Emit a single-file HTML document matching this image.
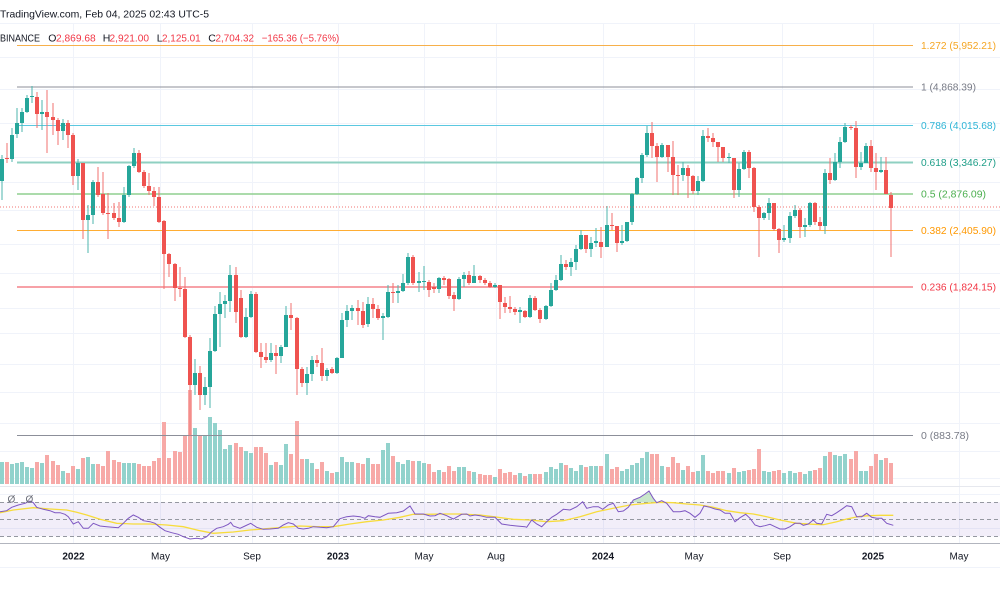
<!DOCTYPE html>
<html><head><meta charset="utf-8"><style>
html,body{margin:0;padding:0;background:#fff;width:1000px;height:600px;overflow:hidden}
svg{display:block}
text{font-family:"Liberation Sans",Arial,sans-serif}
</style></head><body>
<svg id="s" width="1000" height="600" viewBox="0 0 1000 600" xmlns="http://www.w3.org/2000/svg">
<rect x="0" y="0" width="1000" height="600" fill="#fff"/>
<g stroke="#f0f3fa" stroke-width="1">
<line x1="0" y1="23.5" x2="1000" y2="23.5"/><line x1="0" y1="57.5" x2="1000" y2="57.5"/>
<line x1="0" y1="89.5" x2="1000" y2="89.5"/><line x1="0" y1="123.5" x2="1000" y2="123.5"/>
<line x1="0" y1="157.5" x2="1000" y2="157.5"/><line x1="0" y1="182.5" x2="1000" y2="182.5"/>
<line x1="0" y1="210.5" x2="1000" y2="210.5"/><line x1="0" y1="244.5" x2="1000" y2="244.5"/>
<line x1="0" y1="273.5" x2="1000" y2="273.5"/><line x1="0" y1="308.5" x2="1000" y2="308.5"/>
<line x1="0" y1="333.5" x2="1000" y2="333.5"/><line x1="0" y1="364.5" x2="1000" y2="364.5"/>
<line x1="0" y1="392.5" x2="1000" y2="392.5"/><line x1="0" y1="423.5" x2="1000" y2="423.5"/>
<line x1="0" y1="451.5" x2="1000" y2="451.5"/><line x1="0" y1="478.5" x2="1000" y2="478.5"/>
<line x1="0" y1="494.5" x2="1000" y2="494.5"/><line x1="0" y1="528.5" x2="1000" y2="528.5"/>
<line x1="0" y1="567.5" x2="1000" y2="567.5"/>
<line x1="73.5" y1="23" x2="73.5" y2="543"/><line x1="160.5" y1="23" x2="160.5" y2="543"/>
<line x1="252.5" y1="23" x2="252.5" y2="543"/><line x1="338.5" y1="23" x2="338.5" y2="543"/>
<line x1="424.5" y1="23" x2="424.5" y2="543"/><line x1="496.5" y1="23" x2="496.5" y2="543"/>
<line x1="603.5" y1="23" x2="603.5" y2="543"/><line x1="694.5" y1="23" x2="694.5" y2="543"/>
<line x1="782.5" y1="23" x2="782.5" y2="543"/><line x1="873.5" y1="23" x2="873.5" y2="543"/>
<line x1="959.5" y1="23" x2="959.5" y2="543"/>
</g>
<!-- RSI pane -->
<line x1="0" y1="486.5" x2="1000" y2="486.5" stroke="#e6e8ee" stroke-width="1"/>
<rect x="0" y="502.3" width="1000" height="34" fill="#7e57c2" fill-opacity="0.1"/>
<g stroke="#9598a1" stroke-width="1" stroke-dasharray="4,3">
<line x1="0" y1="502.5" x2="1000" y2="502.5"/>
<line x1="0" y1="519.5" x2="1000" y2="519.5"/>
<line x1="0" y1="536.5" x2="1000" y2="536.5"/>
</g>
<line x1="0" y1="543.5" x2="1000" y2="543.5" stroke="#b2b5be" stroke-width="1"/>
<g id="vol"></g>
<!-- fib lines -->
<line x1="17" y1="45.5" x2="913" y2="45.5" stroke="#f7b04a" stroke-width="1"/>
<line x1="17" y1="87" x2="913" y2="87" stroke="#8c8f99" stroke-width="1"/>
<line x1="17" y1="125.5" x2="913" y2="125.5" stroke="#5bc8e0" stroke-width="1"/>
<line x1="17" y1="162.5" x2="913" y2="162.5" stroke="#8fd0c2" stroke-width="2"/>
<line x1="17" y1="194" x2="913" y2="194" stroke="#8fcf8f" stroke-width="1.5"/>
<line x1="17" y1="230.5" x2="913" y2="230.5" stroke="#ffad33" stroke-width="1"/>
<line x1="17" y1="287" x2="913" y2="287" stroke="#f7a1a7" stroke-width="2"/>
<line x1="17" y1="435.5" x2="913" y2="435.5" stroke="#8c8f99" stroke-width="1"/>
<g id="cdl"></g>
<line x1="0" y1="207" x2="1000" y2="207" stroke="#ef5350" stroke-width="1" stroke-dasharray="1,2" stroke-opacity="0.8"/>
<!-- RSI -->
<polygon points="27.8,502.3 30,501 33,502.3" fill="#4caf50" fill-opacity="0.3"/>
<polygon points="631.7,502.3 633.3,500 640,497.3 645,494 649,491 653.3,498.3 656.4,502.3" fill="#4caf50" fill-opacity="0.3"/>
<polyline fill="none" stroke="#f7dc3c" stroke-width="1.3" points="0,512.7 13.3,510 33.3,507.7 50,509 66.7,510 76.7,512.3 86.7,515 100,519.3 116.7,523.3 133.3,524 150,524 166.7,525 183.3,526.7 200,530.7 213.3,533.3 233.3,532 250,530 266.7,528.7 283.3,527.3 300,526 316.7,526.7 333.3,526.7 350,524 366.7,521.7 383.3,520 400,517.3 413.3,514.3 426.7,514.3 443.3,514 460,514 480,515 493.3,516.7 513.3,519.3 530,520 546.7,521.7 563.3,520.7 580,516.7 596.7,511.7 613.3,508.3 630,505 646.7,503.3 660,502.3 673.3,502.7 686.7,504 700,505 713.3,507.3 726.7,510.7 740,512.7 753.3,514 766.7,516.7 780,520 796.7,523.3 813.3,524.3 823.3,524.7 836.7,521.7 846.7,519 860,516.3 870,515.7 880,515.3 893.3,515.3"/>
<polyline fill="none" stroke="#7e57c2" stroke-width="1" points="0,511.7 6.7,510.7 11.7,507.3 18.3,505 25,503.3 30,501 33.3,502.7 36.7,507.3 43.3,509.3 50,510.7 55,512.7 60,512.7 65,514.3 68.3,516.7 73.3,524 78.3,521.7 83.3,528.3 88.3,528.3 93.3,523.3 100,526 106.7,526.7 118.3,527.7 123.3,523.3 128.3,518.3 133.3,515 138.3,517.3 143.3,520.7 150,521.7 155,523.3 160,527.3 165,530.7 171.7,532.7 178.3,534.3 183.3,536.7 190,539 196.7,538.3 201.7,539 206.7,536.7 211.7,531.7 216.7,528.3 223.3,526.7 228.3,524.3 230.7,522.3 233.3,526 240,528.3 245,526 250.7,523.3 256.7,527.3 263.3,529.3 270,529 278.3,528.3 283.3,525 288.3,522.7 293.3,524 298.3,528.3 303.3,529 308.3,528.3 313.3,526.7 320,527.3 326.7,527.7 333.3,526.7 340,518.7 346.7,516.7 353.3,516 360,516.7 365,518.3 368.3,515.7 375,516.7 380,517.3 388.3,513.3 396.7,512.7 403.3,511 410,506 415,514 423.3,514 430,516 435,515.7 440,513.3 446.7,515.7 453.3,519 461.7,514.3 466.7,514 470,516 475,515 480,515.7 486.7,517.3 495,517.3 501.7,524 510,525.3 516.7,526 525,526.7 526.7,527.3 531.7,520 536.7,524 541.7,526.7 546.7,521.7 551.7,517.3 556.7,514.3 563.3,509.3 570,510 576.7,506.7 582.7,501.7 586.7,508.3 593.3,506.7 598.3,506.7 602.7,509.3 608.3,505 613.3,503.3 618.3,511.7 623.3,511 628.3,507.3 633.3,500 640,497.3 645,494 649,491 653.3,498.3 656.7,502.7 661.7,500.7 666.7,503.3 673.3,511.7 680,511.7 685,510.7 690,513.3 695,517.3 700,513.3 704,506 710,507.3 715,509 720,510 725,513.3 730,513.3 735,521.7 740,517.7 745.7,514.3 750,518.3 755,525 760,526.7 765,525.7 770,524.3 775,526.7 780,529 785,529 790,526.7 795,523.3 800,523.3 803.3,525.3 808.3,524 813.3,520 816.7,523.3 821.7,524 826.7,514.3 831.7,515.7 836.7,512.7 841.7,509.3 846.7,505.7 851.7,506.7 856.7,516.7 861.7,516.7 866.7,513.3 871.7,517.3 876.7,518.3 881.7,518.3 886.7,523.3 893.3,525.3"/>
<text x="7.5" y="502.5" font-size="10" fill="#6a6d78">Ø</text>
<text x="25.5" y="502.5" font-size="10" fill="#6a6d78">Ø</text>
<!-- header -->
<text x="0" y="17.5" font-size="10.5" fill="#131722" textLength="209" lengthAdjust="spacingAndGlyphs">TradingView.com, Feb 04, 2025 02:43 UTC-5</text>
<g font-size="10.5">
<text x="0" y="41.5" fill="#131722" textLength="40" lengthAdjust="spacingAndGlyphs">BINANCE</text>
<text x="48.3" y="41.5" fill="#131722">O</text>
<text x="56" y="41.5" fill="#f23645" textLength="39.7" lengthAdjust="spacingAndGlyphs">2,869.68</text>
<text x="102.7" y="41.5" fill="#131722">H</text>
<text x="109.5" y="41.5" fill="#f23645" textLength="39.5" lengthAdjust="spacingAndGlyphs">2,921.00</text>
<text x="156.7" y="41.5" fill="#131722">L</text>
<text x="162" y="41.5" fill="#f23645" textLength="38.7" lengthAdjust="spacingAndGlyphs">2,125.01</text>
<text x="208.3" y="41.5" fill="#131722">C</text>
<text x="215.5" y="41.5" fill="#f23645" textLength="38.5" lengthAdjust="spacingAndGlyphs">2,704.32</text>
<text x="261.7" y="41.5" fill="#f23645" textLength="77.6" lengthAdjust="spacingAndGlyphs">−165.36 (−5.76%)</text>
</g>
<!-- fib labels -->
<g font-size="10">
<text x="921" y="49" fill="#f5a623" textLength="75" lengthAdjust="spacingAndGlyphs">1.272 (5,952.21)</text>
<text x="921" y="90.5" fill="#787b86" textLength="55" lengthAdjust="spacingAndGlyphs">1 (4,868.39)</text>
<text x="921" y="129" fill="#2fb5d6" textLength="75" lengthAdjust="spacingAndGlyphs">0.786 (4,015.68)</text>
<text x="921" y="166" fill="#1e9e88" textLength="75" lengthAdjust="spacingAndGlyphs">0.618 (3,346.27)</text>
<text x="921" y="197.5" fill="#4caf50" textLength="65" lengthAdjust="spacingAndGlyphs">0.5 (2,876.09)</text>
<text x="921" y="234" fill="#ff9800" textLength="75" lengthAdjust="spacingAndGlyphs">0.382 (2,405.90)</text>
<text x="921" y="290.5" fill="#f23645" textLength="75" lengthAdjust="spacingAndGlyphs">0.236 (1,824.15)</text>
<text x="921" y="439" fill="#787b86" textLength="48" lengthAdjust="spacingAndGlyphs">0 (883.78)</text>
</g>
<!-- x axis -->
<g font-size="10" fill="#131722" text-anchor="middle">
<text x="73.5" y="559.5" font-weight="bold">2022</text>
<text x="160.5" y="559.5">May</text>
<text x="252" y="559.5">Sep</text>
<text x="338" y="559.5" font-weight="bold">2023</text>
<text x="424" y="559.5">May</text>
<text x="496" y="559.5">Aug</text>
<text x="603" y="559.5" font-weight="bold">2024</text>
<text x="694" y="559.5">May</text>
<text x="782" y="559.5">Sep</text>
<text x="873" y="559.5" font-weight="bold">2025</text>
<text x="959" y="559.5">May</text>
</g>
</svg>
<script>
(function(){
var C=[[1,159,181,155,200],[0,158,159,143,163],[1,135,159,128,162],[1,123,134,108,138],[1,112,123,108,132],[1,98,112,95,113],[1,96,97,86,103],[0,97,114,92,128],[1,112,114,100,130],[0,112,117,90,153],
[0,117,120,103,135],[0,120,131,118,145],[1,123,131,119,140],[0,123,135,120,148],[0,135,176,133,185],[1,163,176,159,190],[0,163,220,163,239],[1,215,220,205,253],[1,182,215,180,224],[0,182,195,167,197],
[0,194,213,172,215],[0,213,214,193,239],[0,213,218,203,220],[0,218,222,202,227],[1,195,222,187,223],[1,166,195,165,197],[1,153,166,148,168],[0,153,172,150,173],[0,172,186,170,188],[0,186,191,173,195],
[0,191,197,187,206],[0,197,222,187,223],[0,221,254,220,289],[0,254,264,253,277],[0,264,288,263,301],[0,288,289,267,297],[0,289,337,277,338],[0,337,385,335,436],[1,373,385,359,395],[0,373,395,366,410],
[1,387,395,377,405],[1,351,387,338,408],[1,314,351,306,352],[1,304,314,292,347],[1,301,304,295,318],[1,275,301,265,312],[0,275,312,267,323],[0,298,337,290,338],[1,317,337,308,338],[1,294,317,291,318],
[0,294,352,292,353],[0,352,357,343,368],[0,357,360,343,363],[1,353,360,343,362],[0,353,356,345,374],[1,347,356,345,363],[1,315,347,306,347],[0,315,318,303,330],[0,318,369,317,395],[0,369,383,367,387],
[1,374,383,367,395],[1,360,374,356,381],[0,360,363,355,367],[0,363,376,348,381],[1,370,376,368,381],[0,369,373,367,374],[1,358,373,357,374],[1,320,358,313,358],[1,311,320,305,327],[1,308,311,305,320],
[0,308,311,300,325],[0,311,325,302,328],[1,304,324,297,327],[0,304,309,298,318],[0,309,318,305,320],[1,316,318,313,340],[1,292,317,285,318],[0,292,293,283,303],[1,291,293,285,303],[1,283,291,274,292],
[1,257,283,253,285],[0,257,283,255,285],[1,281,283,272,292],[1,281,282,266,290],[0,282,290,280,297],[0,287,289,283,293],[1,278,289,277,293],[0,278,280,276,285],[0,279,296,278,299],[0,295,299,292,311],
[1,279,299,277,300],[1,275,279,272,287],[0,275,283,271,285],[1,276,283,265,283],[0,276,280,275,283],[0,280,283,278,285],[0,283,287,281,288],[1,285,287,283,288],[0,285,302,285,319],[0,303,307,297,313],
[0,307,309,296,313],[0,309,312,307,315],[1,310,312,307,323],[0,311,317,310,318],[1,298,317,295,318],[0,298,310,296,311],[0,310,319,308,323],[1,306,319,305,320],[1,290,306,283,307],[1,280,290,275,291],
[1,264,280,255,281],[0,264,267,260,270],[1,262,267,258,276],[1,249,262,245,270],[1,235,249,230,250],[0,235,249,235,253],[1,243,249,237,257],[1,241,243,228,247],[0,242,247,227,258],[1,225,247,206,247],
[0,225,226,213,230],[0,226,243,226,252],[1,241,243,225,245],[1,222,241,222,242],[1,194,222,193,225],[1,178,194,177,195],[1,155,178,153,183],[1,133,155,126,157],[0,133,146,122,158],[0,146,157,143,182],
[1,145,157,143,158],[0,145,157,145,172],[0,157,175,141,195],[0,175,176,165,195],[1,168,175,162,181],[0,168,176,165,198],[0,176,191,175,194],[1,181,191,176,195],[1,136,181,130,182],[0,136,138,128,142],
[0,138,142,133,147],[0,142,147,142,162],[0,147,158,147,162],[1,157,158,153,163],[0,158,190,158,198],[1,169,190,163,197],[1,152,169,150,170],[0,152,168,150,178],[0,168,207,167,212],[0,207,218,205,257],
[1,213,218,212,220],[1,203,213,198,220],[0,203,229,203,231],[0,229,240,228,253],[1,238,240,225,242],[1,216,238,212,243],[1,210,216,205,218],[0,210,227,208,238],[1,225,227,218,237],[1,203,225,202,227],
[0,203,222,202,225],[0,222,226,217,230],[1,173,226,169,234],[0,173,180,158,184],[1,162,180,153,181],[1,142,162,137,168],[1,127,142,123,143],[0,127,128,125,130],[0,128,167,121,178],[1,163,167,152,170],
[1,146,163,143,163],[0,146,168,140,172],[0,168,172,153,190],[1,170,172,157,173],[0,170,194,157,194],[0,195,208,192,257]];
var V=[462,462,464,463,462,467,468,462,463,455,461,465,471,473,466,469,458,457,464,464,466,451,460,462,463,463,463,464,466,466,461,458,422,458,451,452,436,390,428,436,436,417,423,430,449,445,443,447,451,453,447,447,453,465,462,465,444,454,421,459,459,463,469,462,471,473,472,457,462,462,463,464,458,464,464,450,443,456,462,464,460,461,461,463,464,472,470,472,466,471,467,467,471,472,474,475,475,477,469,
473,472,475,473,476,474,474,474,472,467,469,463,465,468,471,465,467,466,466,466,454,469,467,471,469,465,463,458,452,454,454,466,467,457,463,470,466,472,471,455,471,473,471,471,473,468,472,471,470,469,449,471,472,471,470,473,471,473,472,474,471,470,468,456,452,455,456,454,459,451,471,471,466,454,460,458,463];
var NS="http://www.w3.org/2000/svg";
var vg=document.getElementById("vol"),cg=document.getElementById("cdl");
function R(g,x,y,w,h,f){var r=document.createElementNS(NS,"rect");r.setAttribute("x",x);r.setAttribute("y",y);r.setAttribute("width",w);r.setAttribute("height",h);r.setAttribute("fill",f);g.appendChild(r);}
for(var i=0;i<C.length;i++){
 var c=C[i],x=Math.round(1.7+5.083*i);
 var up=c[0]==1;
 var col=up?"#26a69a":"#ef5350";
 var vcol=up?"#92d2cc":"#f7a9a7";
 var vt=V[i];
 R(vg,x-2,vt,4,484-vt,vcol);
 R(cg,x-0.5,c[3],1,c[4]-c[3],up?"#4db6ac":"#f0716f");
 var bt=c[1],bb=c[2];if(bb-bt<1)bb=bt+1;
 R(cg,x-2,bt,4,bb-bt,col);
}
})();
</script>
</body></html>
